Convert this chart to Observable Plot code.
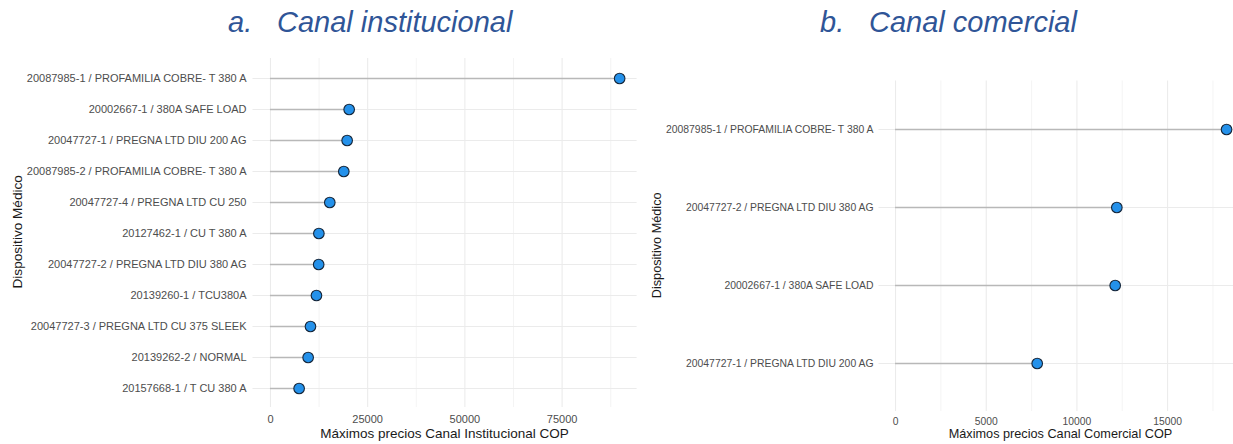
<!DOCTYPE html>
<html>
<head>
<meta charset="utf-8">
<script src="https://cdn.jsdelivr.net/npm/d3@7"></script>
<script src="https://cdn.jsdelivr.net/npm/@observablehq/plot@0.6"></script>
<style>
  html, body { margin: 0; padding: 0; background: #fff; }
  #root { position: relative; width: 1233px; height: 444px; overflow: hidden; background: #fff;
          font-family: "Liberation Sans", Arial, sans-serif; }
  .abs { position: absolute; white-space: nowrap; }
  .title { color: #2f5597; font-style: italic; font-size: 29px; line-height: 29px; }
  .axt { color: #1a1a1a; text-align: center; }
  svg { overflow: visible; }
</style>
</head>
<body>
<div id="root"></div>
<script>
// ---- data ----
const instNames = [
  "20087985-1 / PROFAMILIA COBRE- T 380 A",
  "20002667-1 / 380A SAFE LOAD",
  "20047727-1 / PREGNA LTD DIU 200 AG",
  "20087985-2 / PROFAMILIA COBRE- T 380 A",
  "20047727-4 / PREGNA LTD CU 250",
  "20127462-1 / CU T 380 A",
  "20047727-2 / PREGNA LTD DIU 380 AG",
  "20139260-1 / TCU380A",
  "20047727-3 / PREGNA LTD CU 375 SLEEK",
  "20139262-2 / NORMAL",
  "20157668-1 / T CU 380 A"
];
const instValues = [89800, 20240, 19720, 18860, 15260, 12450, 12400, 11830, 10290, 9690, 7370];
const instTicks = [0, 25000, 50000, 75000];
const instMinor = [12500, 37500, 62500, 87500];

const comNames = [
  "20087985-1 / PROFAMILIA COBRE- T 380 A",
  "20047727-2 / PREGNA LTD DIU 380 AG",
  "20002667-1 / 380A SAFE LOAD",
  "20047727-1 / PREGNA LTD DIU 200 AG"
];
const comValues = [18250, 12200, 12110, 7810];
const comTicks = [0, 5000, 10000, 15000];
const comMinor = [2500, 7500, 12500, 17500];

const titleA = ["a.", "Canal institucional"];
const titleB = ["b.", "Canal comercial"];
const yTitle = "Dispositivo Médico";
const xTitleA = "Máximos precios Canal Institucional COP";
const xTitleB = "Máximos precios Canal Comercial COP";

// ---- chart builder ----
function lollipop(o) {
  const data = o.names.map((n, i) => ({name: n, value: o.values[i]}));
  const max = d3.max(o.values);
  return Plot.plot({
    width: o.width, height: o.height,
    marginLeft: o.marginLeft, marginRight: o.marginRight,
    marginTop: o.marginTop, marginBottom: o.marginBottom,
    x: {domain: [-0.05 * max, 1.05 * max]},
    y: {type: "point", domain: o.names, padding: 0.6},
    style: {fontFamily: '"Liberation Sans", Arial, sans-serif', fontSize: o.yFont + "px",
            color: "#4d4d4d", background: "transparent", overflow: "visible"},
    marks: [
      Plot.ruleX(o.minor, {stroke: "#ededed", strokeWidth: 0.6}),
      Plot.ruleX(o.ticks, {stroke: "#ebebeb", strokeWidth: 1.07}),
      Plot.ruleY(o.names, {stroke: "#ebebeb", strokeWidth: 1.07}),
      Plot.ruleY(data, {y: "name", x1: 0, x2: "value", stroke: "#b8b8b8", strokeWidth: 1.5}),
      Plot.dot(data, {x: "value", y: "name", r: 5.3, fill: "#2491ea", stroke: "#15263a", strokeWidth: 1.1}),
      Plot.axisY({tickSize: 0, tickPadding: o.yPad, label: null, fontSize: o.yFont}),
      Plot.axisX(o.ticks, {tickSize: 0, tickPadding: o.xPad, label: null,
                           tickFormat: d => String(d), fontSize: o.xFont})
    ]
  });
}

const root = document.getElementById("root");

function place(el, left, top) {
  el.style.position = "absolute";
  el.style.left = left + "px";
  el.style.top = top + "px";
  root.appendChild(el);
}

place(lollipop({names: instNames, values: instValues, ticks: instTicks, minor: instMinor,
  width: 640, height: 394, marginLeft: 252.5, marginRight: 3.4, marginTop: 8, marginBottom: 37,
  yFont: 11, xFont: 11, yPad: 6.5, xPad: 7.5}), 0, 50);

place(lollipop({names: comNames, values: comValues, ticks: comTicks, minor: comMinor,
  width: 620, height: 394, marginLeft: 238.5, marginRight: 17.4, marginTop: 30.5, marginBottom: 33,
  yFont: 10.4, xFont: 10.3, yPad: 5.5, xPad: 6.5}), 640, 50);

// ---- texts ----
function text(str, cls, left, top, extra) {
  const d = document.createElement("div");
  d.className = "abs " + cls;
  d.textContent = str;
  d.style.left = left + "px";
  d.style.top = top + "px";
  if (extra) Object.assign(d.style, extra);
  root.appendChild(d);
  return d;
}
// titles (baseline ~32)
text(titleA[0], "title", 228, 7.5);
text(titleA[1], "title", 277, 7.5);
text(titleB[0], "title", 820, 7.5);
text(titleB[1], "title", 869, 7.5);

// x axis titles
text(xTitleA, "axt", 444.5 - 200, 438.5 - 0.8465 * 13.5,
  {width: "400px", fontSize: "13.5px", lineHeight: "13.5px"});
text(xTitleB, "axt", 1060.5 - 200, 438.5 - 0.8465 * 12.7,
  {width: "400px", fontSize: "12.7px", lineHeight: "12.7px"});

// y axis titles (rotated)
function yT(cx, cy, fs) {
  text(yTitle, "axt", cx - 100, cy - fs / 2,
    {width: "200px", fontSize: fs + "px", lineHeight: fs + "px", transform: "rotate(-90deg)",
     transformOrigin: "50% 50%"});
}
yT(18, 232, 13.6);
yT(657, 245.5, 12.7);
</script>
</body>
</html>
